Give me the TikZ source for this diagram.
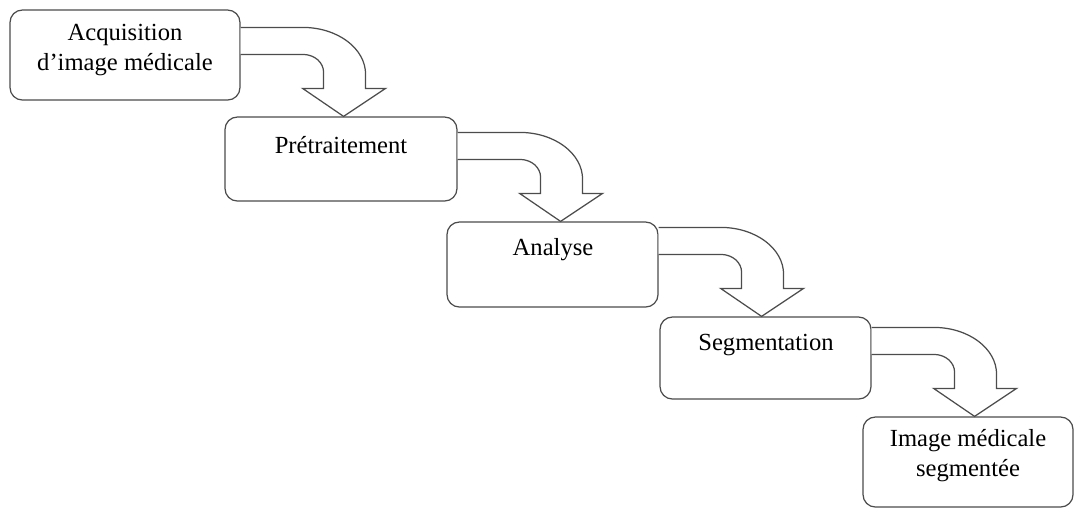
\documentclass[tikz,border=0pt]{standalone}
\usepackage{fontspec}
\setmainfont{Liberation Serif}
\usetikzlibrary{calc}

\tikzset{
	stage/.style={draw=black!70, line width=0.7pt, rounded corners=7pt, fill=white},
	stagetext/.style={align=center, inner sep=0pt, font=\fontsize{14}{17}\selectfont},
	bent/.style={draw=black!70, line width=0.7pt, fill=white, line join=miter},
}

% curved arrow from the right side of #1 down onto the top of #2
\newcommand{\bentarrow}[2]{%
	\begin{scope}[shift={($(#1.east |- #2.north)+(0,-89)$)}]
		\draw[bent] (0,0) -- (62,0) .. controls (97,0) and (125,21) .. (125,47)
			-- (125,61) -- (145,61) -- (103,89) -- (62,61) -- (83,61) -- (83,45)
			.. controls (83,35) and (74,27) .. (62,27) -- (0,27);
	\end{scope}}

\begin{document}
\begin{tikzpicture}[x=0.02cm, y=-0.02cm]
	\useasboundingbox (0,0) rectangle (1081,512);
	% boxes
	\node[stage, minimum width=4.6cm, minimum height=1.8cm] (acq) at (125,55) {};
	\node[stage, minimum width=4.64cm, minimum height=1.68cm] (pre) at (341,159) {};
	\node[stage, minimum width=4.22cm, minimum height=1.7cm] (ana) at (552.5,264.5) {};
	\node[stage, minimum width=4.22cm, minimum height=1.64cm] (seg) at (765.5,358) {};
	\node[stage, minimum width=4.2cm, minimum height=1.8cm] (res) at (968,462) {};
	% texts
	\node[stagetext] (acqtext) at (125,50) {Acquisition\\d'image médicale};
	\node[stagetext] (pretext) at (341,145) {Prétraitement};
	\node[stagetext] (anatext) at (553,250) {Analyse};
	\node[stagetext] (segtext) at (766,345) {Segmentation};
	\node[stagetext] (restext) at (968,456) {Image médicale\\segmentée};
	% arrows
	\bentarrow{acq}{pre}
	\bentarrow{pre}{ana}
	\bentarrow{ana}{seg}
	\bentarrow{seg}{res}
\end{tikzpicture}
\end{document}
